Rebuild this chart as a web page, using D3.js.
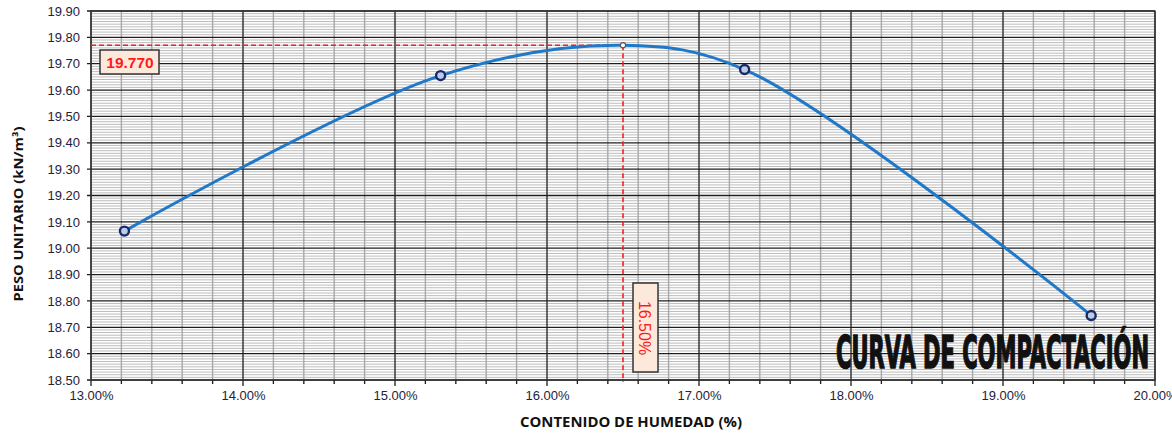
<!DOCTYPE html>
<html><head><meta charset="utf-8">
<script src="https://cdn.jsdelivr.net/npm/d3@7"></script>
<style>html,body{margin:0;padding:0;background:#fff;}svg{display:block;}</style>
</head><body>
<svg id="c" width="1172" height="437"></svg>
<script>
// ---- data ----
const moisture = [13.22, 15.30, 17.30, 19.58];          // % humedad
const unitWeight = [19.065, 19.655, 19.678, 18.745];    // kN/m3
const optMoisture = 16.50;
const maxUnitWeight = 19.770;
const xTicks = [13, 14, 15, 16, 17, 18, 19, 20];
const yTicks = [18.5, 18.6, 18.7, 18.8, 18.9, 19.0, 19.1, 19.2, 19.3, 19.4, 19.5, 19.6, 19.7, 19.8, 19.9];
const xTitle = "CONTENIDO DE HUMEDAD (%)";
const yTitle = "PESO UNITARIO (kN/m³)";
const chartLabel = "CURVA DE COMPACTACIÓN";

// ---- layout ----
const svg = d3.select("#c");
const L = 91, R = 1155, T = 11, B = 380;
const x = d3.scaleLinear().domain([13, 20]).range([L, R]);
const y = d3.scaleLinear().domain([18.5, 19.9]).range([B, T]);
const font = "'Liberation Sans', Arial, sans-serif";

const g = svg.append("g");

// minor horizontal grid (0.01)
const yMinor = d3.range(1850, 1990, 1).map(v => v / 100).filter(v => Math.round(v * 100) % 10 !== 0);
g.selectAll(".hm").data(yMinor).enter().append("line")
  .attr("x1", L).attr("x2", R).attr("y1", d => y(d)).attr("y2", d => y(d))
  .attr("stroke", "#b4b4b4").attr("stroke-width", 0.9);
// minor vertical grid (0.2%)
const xMinor = d3.range(130, 200, 2).map(v => v / 10).filter(v => Math.round(v * 10) % 10 !== 0);
g.selectAll(".vm").data(xMinor).enter().append("line")
  .attr("x1", d => x(d)).attr("x2", d => x(d)).attr("y1", T).attr("y2", B + 4)
  .attr("stroke", "#a8a8a8").attr("stroke-width", 1.4);
// minor x tick marks (dark)
g.selectAll(".vmt").data(xMinor).enter().append("line")
  .attr("x1", d => x(d)).attr("x2", d => x(d)).attr("y1", B).attr("y2", B + 4)
  .attr("stroke", "#222").attr("stroke-width", 1.2);
// major horizontal grid
g.selectAll(".hM").data(yTicks).enter().append("line")
  .attr("x1", L - 4).attr("x2", R).attr("y1", d => y(d)).attr("y2", d => y(d))
  .attr("stroke", "#1e1e1e").attr("stroke-width", 1.3);
// major vertical grid
g.selectAll(".vM").data(xTicks).enter().append("line")
  .attr("x1", d => x(d)).attr("x2", d => x(d)).attr("y1", T).attr("y2", B + 6)
  .attr("stroke", "#1e1e1e").attr("stroke-width", 1.3);
// frame
g.append("rect").attr("x", L).attr("y", T).attr("width", R - L).attr("height", B - T)
  .attr("fill", "none").attr("stroke", "#333").attr("stroke-width", 1.3);

// axes labels
const yAxis = d3.axisLeft(y).tickValues(yTicks).tickSize(0).tickPadding(11).tickFormat(d3.format(".2f"));
const ya = svg.append("g").attr("transform", `translate(${L},0)`).call(yAxis);
ya.select(".domain").remove();
ya.selectAll("text").attr("font-family", font).attr("font-size", 13).attr("fill", "#23233a");

const xAxis = d3.axisBottom(x).tickValues(xTicks).tickSize(0).tickPadding(11)
  .tickFormat(d => d3.format(".2f")(d) + "%");
const xa = svg.append("g").attr("transform", `translate(0,${B})`).call(xAxis);
xa.select(".domain").remove();
xa.selectAll("text").attr("font-family", font).attr("font-size", 13).attr("fill", "#23233a");

// axis titles
svg.append("text").attr("transform", "translate(23,214) rotate(-90)")
  .attr("text-anchor", "middle").attr("font-family", "'Open Sans', sans-serif").attr("font-weight", "bold")
  .attr("font-size", 13).attr("fill", "#111")
  .attr("textLength", 175).attr("lengthAdjust", "spacingAndGlyphs").text(yTitle);
svg.append("text").attr("x", 631).attr("y", 427)
  .attr("text-anchor", "middle").attr("font-family", "'Open Sans', sans-serif").attr("font-weight", "bold")
  .attr("font-size", 14).attr("fill", "#111")
  .attr("textLength", 222).attr("lengthAdjust", "spacingAndGlyphs").text(xTitle);

// reference dashed lines
svg.append("line").attr("x1", L).attr("x2", x(optMoisture)).attr("y1", y(maxUnitWeight)).attr("y2", y(maxUnitWeight))
  .attr("stroke", "#ff1a1a").attr("stroke-width", 1.6).attr("stroke-dasharray", "5,3");
svg.append("line").attr("x1", x(optMoisture)).attr("x2", x(optMoisture)).attr("y1", y(maxUnitWeight)).attr("y2", B + 2)
  .attr("stroke", "#ff1a1a").attr("stroke-width", 1.6).attr("stroke-dasharray", "5,3");

// curve
const pts = moisture.map((m, i) => [m, unitWeight[i]]).concat([[optMoisture, maxUnitWeight]]).sort((a, b) => a[0] - b[0]);
const line = d3.line().x(d => x(d[0])).y(d => y(d[1])).curve(d3.curveCatmullRom.alpha(0.5));
svg.append("path").attr("d", line(pts)).attr("fill", "none").attr("stroke", "#1f78c8").attr("stroke-width", 3);

// markers
svg.selectAll(".pt").data(moisture).enter().append("circle")
  .attr("cx", d => x(d)).attr("cy", (d, i) => y(unitWeight[i])).attr("r", 4.5)
  .attr("fill", "#b9cde8").attr("stroke", "#1b2868").attr("stroke-width", 2.4);
svg.append("circle").attr("cx", x(optMoisture)).attr("cy", y(maxUnitWeight)).attr("r", 2.6)
  .attr("fill", "#fff").attr("stroke", "#555").attr("stroke-width", 1.1);

// value labels
svg.append("rect").attr("x", 100).attr("y", 50).attr("width", 59).attr("height", 24)
  .attr("fill", "#fde9dc").attr("stroke", "#333").attr("stroke-width", 1.5);
svg.append("text").attr("x", 130).attr("y", 68).attr("text-anchor", "middle")
  .attr("font-family", font).attr("font-weight", "bold").attr("font-size", 15.5).attr("fill", "#ff1a1a")
  .text(d3.format(".3f")(maxUnitWeight));

svg.append("rect").attr("x", 633).attr("y", 283).attr("width", 25).attr("height", 89)
  .attr("fill", "#fde9dc").attr("stroke", "#333").attr("stroke-width", 1.5);
svg.append("text").attr("transform", "translate(638.5,328) rotate(90)").attr("text-anchor", "middle")
  .attr("font-family", font).attr("font-size", 16).attr("fill", "#ff1a1a")
  .text(d3.format(".2f")(optMoisture) + "%");

// chart label
svg.append("text").attr("x", 836).attr("y", 368)
  .attr("font-family", "'Liberation Sans Narrow', 'DejaVu Sans Condensed', sans-serif").attr("font-weight", "bold")
  .attr("font-size", 44).attr("fill", "#111").attr("stroke", "#111").attr("stroke-width", 1.6)
  .attr("textLength", 313).attr("lengthAdjust", "spacingAndGlyphs")
  .text(chartLabel);
</script>
</body></html>
